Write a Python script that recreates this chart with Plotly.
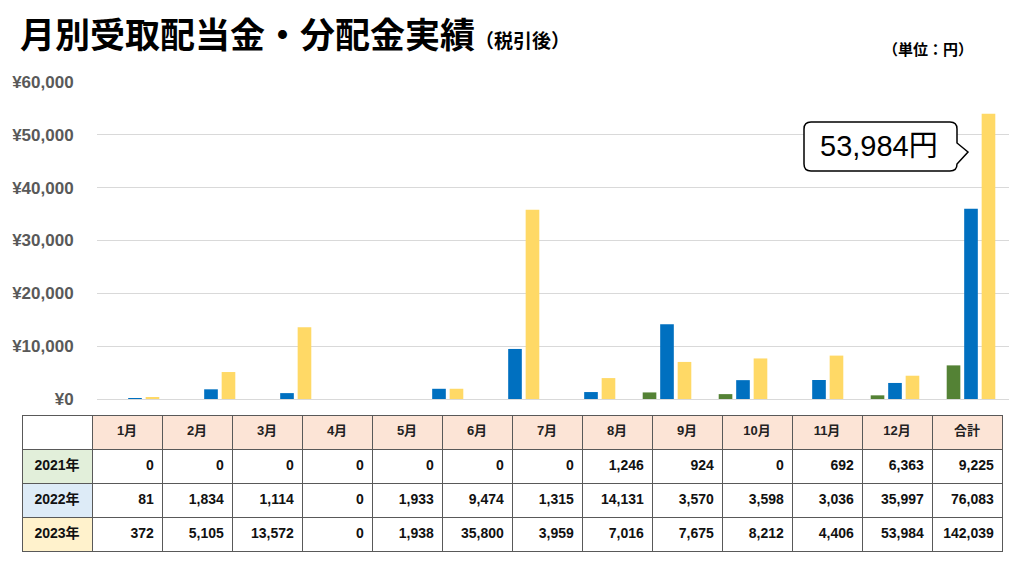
import plotly.graph_objects as go

# ---- data ----
months = ["1月", "2月", "3月", "4月", "5月", "6月", "7月", "8月", "9月", "10月", "11月", "12月"]
total_label = "合計"
series_names = ["2021年", "2022年", "2023年"]
y2021 = [0, 0, 0, 0, 0, 0, 0, 1246, 924, 0, 692, 6363]
y2022 = [81, 1834, 1114, 0, 1933, 9474, 1315, 14131, 3570, 3598, 3036, 35997]
y2023 = [372, 5105, 13572, 0, 1938, 35800, 3959, 7016, 7675, 8212, 4406, 53984]
y_ticks = [0, 10000, 20000, 30000, 40000, 50000, 60000]
y_ticktext = [f"¥{v:,}" for v in y_ticks]

W, H = 1024, 576
bar_colors = ["#548235", "#0070C0", "#FFD966"]
row_fills = ["#E2EFDA", "#DDEBF7", "#FFF2CC"]
header_fill = "#FCE4D6"

def px(x):
    return x / W

def py(y):
    return 1 - y / H

fig = go.Figure()
for name, vals, col in zip(series_names, [y2021, y2022, y2023], bar_colors):
    fig.add_trace(go.Bar(x=months, y=vals, name=name, marker_color=col,
                         marker_line_width=0, hoverinfo="x+y+name"))

# ---- table ----
all_series = [y2021, y2022, y2023]
header_vals = [""] + [f"<b>{m}</b>" for m in months] + [f"<b>{total_label}</b>"]
cols = [[f"<b>{n}</b>" for n in series_names]]
for i in range(len(months)):
    cols.append([f"<b>{s[i]:,}</b>" for s in all_series])
cols.append([f"<b>{sum(s):,}</b>" for s in all_series])
cell_fills = [row_fills] + [["white"] * 3 for _ in range(len(months) + 1)]

fig.add_trace(go.Table(
    domain=dict(x=[px(22), px(1002)], y=[0, py(415)]),
    columnwidth=[1] * 14,
    header=dict(values=header_vals,
                fill_color=["white"] + [header_fill] * 13,
                line=dict(color="#595959", width=1),
                align="center", height=34,
                font=dict(family="Liberation Sans, Noto Sans CJK JP", size=13, color="#222222")),
    cells=dict(values=cols,
               fill_color=cell_fills,
               line=dict(color="#595959", width=1),
               align=["center"] + ["right"] * 13, height=34,
               font=dict(family="Liberation Sans, Noto Sans CJK JP", size=14, color="#111111")),
))

# ---- callout ----
x0, x1, y0, y1, r = 804, 957, 122, 171, 7
path_pts = (
    f"M {px(x0 + r)},{py(y0)} L {px(x1 - r)},{py(y0)} "
    f"Q {px(x1)},{py(y0)} {px(x1)},{py(y0 + r)} "
    f"L {px(x1)},{py(143)} L {px(968)},{py(152)} L {px(x1)},{py(164)} "
    f"L {px(x1)},{py(y1 - r)} Q {px(x1)},{py(y1)} {px(x1 - r)},{py(y1)} "
    f"L {px(x0 + r)},{py(y1)} Q {px(x0)},{py(y1)} {px(x0)},{py(y1 - r)} "
    f"L {px(x0)},{py(y0 + r)} Q {px(x0)},{py(y0)} {px(x0 + r)},{py(y0)} Z"
)
fig.add_shape(type="path", path=path_pts, xref="paper", yref="paper",
              fillcolor="white", line=dict(color="#000000", width=1.5), layer="above")

annotations = [
    dict(x=px(879), y=py(146), xref="paper", yref="paper", xanchor="center", yanchor="middle",
         text=f"{y2023[-1]:,}円", showarrow=False,
         font=dict(family="Liberation Sans, Noto Sans CJK JP", size=29, color="#000000")),
    dict(x=px(18), y=py(33), xref="paper", yref="paper", xanchor="left", yanchor="middle",
         text="<b>月別受取配当金・分配金実績</b><span style='font-size:19px'><b>（税引後）</b></span>",
         showarrow=False,
         font=dict(family="Noto Sans CJK JP", size=35, color="#000000")),
    dict(x=px(975), y=py(48), xref="paper", yref="paper", xanchor="right", yanchor="middle",
         text="<b>（単位：円）</b>", showarrow=False,
         font=dict(family="Noto Sans CJK JP", size=15, color="#000000")),
]

fig.update_layout(
    width=W, height=H,
    margin=dict(l=0, r=0, t=0, b=0, pad=0, autoexpand=False),
    paper_bgcolor="white", plot_bgcolor="white",
    showlegend=False,
    barmode="group", bargap=0.31, bargroupgap=0.22,
    annotations=annotations,
    xaxis=dict(domain=[px(97), px(1009)], showticklabels=False, showgrid=False,
               showline=False, zeroline=False, ticks="", automargin=False),
    yaxis=dict(domain=[py(399), py(82)], range=[0, 60000], tickvals=y_ticks,
               ticktext=y_ticktext, showgrid=True, gridcolor="#D9D9D9", automargin=False,
               gridwidth=1, zeroline=True, zerolinecolor="#D9D9D9", zerolinewidth=1,
               showline=False, ticks="outside", ticklen=19, tickcolor="rgba(0,0,0,0)",
               tickfont=dict(family="Liberation Sans", size=17, color="#595959", weight="bold")),
)

fig.write_html("out.html")
